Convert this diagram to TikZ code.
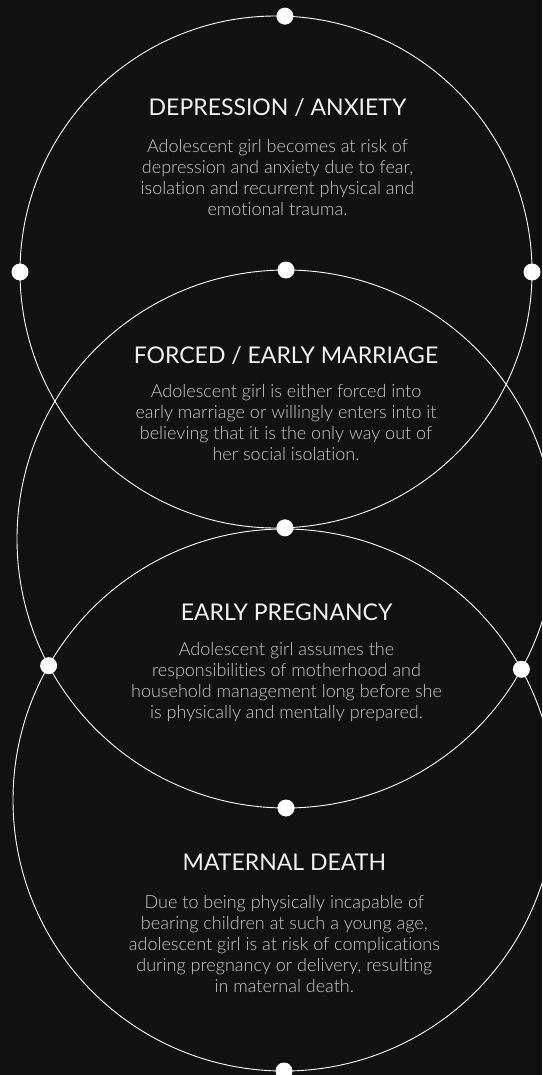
\documentclass[tikz,border=0pt]{standalone}
\usepackage{fontspec}
\setmainfont{Lato}[Ligatures=NoCommon]
\IfFontExistsTF{Lato Light}{\newfontfamily\bodyfont{Lato Light}[Ligatures=NoCommon]}{\newfontfamily\bodyfont{Lato}[Ligatures=NoCommon]}
\usetikzlibrary{intersections}
\definecolor{bg}{HTML}{111111}
\definecolor{bodygray}{HTML}{CCCCCC}
\definecolor{titlewhite}{HTML}{F2F2F2}
\begin{document}
\begin{tikzpicture}[x=1pt,y=-1pt,
  ring/.style={circle, draw=white, line width=0.9pt, inner sep=0pt, outer sep=0pt},
  dot/.style={circle, fill=white, inner sep=0pt, minimum size=17pt},
  titletext/.style={text=titlewhite, font=\fontsize{23}{27}\selectfont, inner sep=0pt, anchor=base},
  bodytext/.style={text=bodygray, font=\bodyfont\fontsize{18}{21}\selectfont, align=center, inner sep=0pt, anchor=north}]
\fill[bg] (0,0) rectangle (542,1075);
\useasboundingbox (0,0) rectangle (542,1075);
\clip (0,0) rectangle (542,1075);

% circles
\node[ring, minimum size=512pt, name path=cA] (cA) at (276,272) {};
\node[ring, minimum size=538pt, name path=cB] (cB) at (286,539) {};
\node[ring, minimum size=542pt, name path=cC] (cC) at (284,800) {};

% dots
\node[dot] (dA1) at (cA.88.2) {};
\node[dot] (dA2) at (cA.west) {};
\node[dot] (dA3) at (cA.east) {};
\node[dot] (dA4) at (cA.-88) {};
\node[dot] (dB1) at (cB.north) {};
\node[dot] (dB2) at (cB.south) {};
\node[dot] (dC1) at (cC.south) {};
\path[name intersections={of=cB and cC, name=bc}];
\node[dot] (dX1) at (bc-1) {};
\node[dot] (dX2) at (bc-2) {};

% texts
\node[titletext] (tA) at (277.5,116) {DEPRESSION / ANXIETY};
\node[bodytext] (bA) at (277.5,139.5) {Adolescent girl becomes at risk of\\depression and anxiety due to fear,\\isolation and recurrent physical and\\emotional trauma.};

\node[titletext] (tB) at (286,363) {FORCED / EARLY MARRIAGE};
\node[bodytext] (bB) at (286,384.5) {Adolescent girl is either forced into\\early marriage or willingly enters into it\\believing that it is the only way out of\\her social isolation.};

\node[titletext] (tC) at (286.5,620) {EARLY PREGNANCY};
\node[bodytext] (bC) at (286.5,642.5) {Adolescent girl assumes the\\responsibilities of motherhood and\\household management long before she\\is physically and mentally prepared.};

\node[titletext] (tD) at (284.3,870) {MATERNAL DEATH};
\node[bodytext] (bD) at (284.3,895) {Due to being physically incapable of\\bearing children at such a young age,\\adolescent girl is at risk of complications\\during pregnancy or delivery, resulting\\in maternal death.};
\end{tikzpicture}
\end{document}
